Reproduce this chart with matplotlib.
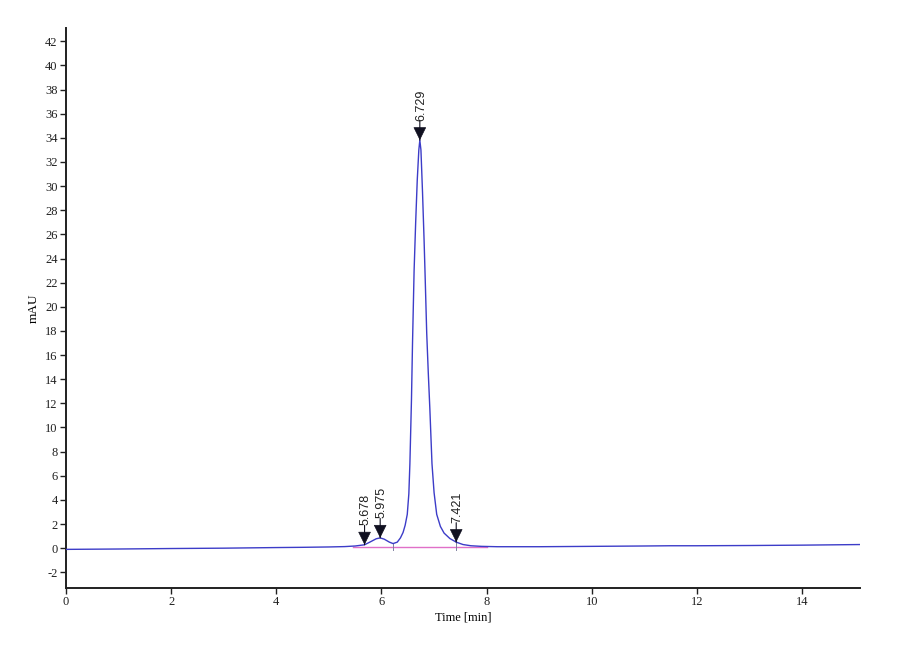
import matplotlib
matplotlib.use("Agg")
import matplotlib.pyplot as plt

plt.rcParams["axes.unicode_minus"] = False

# chromatogram trace
time_min = [0, 1, 2, 3, 4, 4.5, 5.0, 5.3, 5.5, 5.678, 5.8, 5.9, 5.975, 6.05,
            6.15, 6.22, 6.3, 6.36, 6.41, 6.45, 6.49, 6.52, 6.54, 6.57, 6.59,
            6.62, 6.65, 6.68, 6.71, 6.729, 6.75, 6.78, 6.81, 6.83, 6.86, 6.89,
            6.92, 6.96, 7.0, 7.05, 7.12, 7.19, 7.3, 7.421, 7.55, 7.7, 7.9, 8.2,
            9, 10, 11, 11.5, 12, 13, 14, 15.1]
signal_mau = [-0.1, -0.07, -0.03, 0.0, 0.05, 0.07, 0.1, 0.13, 0.18, 0.28,
              0.55, 0.78, 0.85, 0.75, 0.5, 0.38, 0.5, 0.85, 1.3, 1.9, 2.8,
              4.5, 7.0, 12.3, 17.0, 23.0, 27.0, 30.5, 33.0, 33.8, 33.0, 29.5,
              25.5, 22.5, 17.8, 14.5, 11.5, 7.0, 4.6, 2.8, 1.8, 1.25, 0.8,
              0.5, 0.3, 0.2, 0.15, 0.12, 0.12, 0.15, 0.18, 0.2, 0.2, 0.22,
              0.25, 0.3]

# peak marks
peak_times = [5.678, 5.975, 6.729, 7.421]
peak_heights = [0.28, 0.85, 33.8, 0.5]
peak_labels = ["5.678", "5.975", "6.729", "7.421"]

# integration baseline and drop lines
baseline_t = [5.46, 8.0]
baseline_v = [0.1, 0.1]
drop_times = [6.22, 7.421]
drop_tops = [0.38, 0.5]

serif = "Liberation Serif"
sans = "Liberation Sans"

fig = plt.figure(figsize=(9, 6.6), dpi=100)
ax = fig.add_axes([0.0733, 0.1091, 0.8823, 0.8485])

ax.plot(baseline_t, baseline_v, color="#e070c8", lw=1.0, zorder=2)
for t, top in zip(drop_times, drop_tops):
    ax.plot([t, t], [-0.15, top], color="#8080a0", lw=0.7, zorder=2)

ax.plot(time_min, signal_mau, color="#3c3cc8", lw=1.0, zorder=3)

for t, h, lab in zip(peak_times, peak_heights, peak_labels):
    # stem, then a triangle whose tip sits on the trace
    ax.annotate("", xy=(t, h), xytext=(0, 14), textcoords="offset points",
                arrowprops=dict(arrowstyle="-", lw=0.8, color="#101020",
                                shrinkA=0, shrinkB=0), zorder=4)
    ax.annotate("", xy=(t, h), xytext=(0, 9), textcoords="offset points",
                arrowprops=dict(arrowstyle="-|>,head_length=0.85,head_width=0.42",
                                lw=0.5, color="#101020", shrinkA=0, shrinkB=0),
                zorder=4)
    ax.annotate(lab, xy=(t, h), xytext=(1, 14), textcoords="offset points",
                rotation=90, ha="center", va="bottom", fontsize=9,
                family=sans, color="#202020", zorder=5)

ax.set_xlim(0, 15.1)
ax.set_ylim(-3.3, 43.1)
ax.set_xticks(range(0, 15, 2))
ax.set_yticks(range(-2, 43, 2))

for s in ("top", "right"):
    ax.spines[s].set_visible(False)
for s in ("left", "bottom"):
    ax.spines[s].set_linewidth(1.4)
    ax.spines[s].set_color("#202020")

ax.tick_params(direction="out", length=4, width=1.0, pad=2, colors="#202020")
for lbl in ax.get_xticklabels() + ax.get_yticklabels():
    lbl.set_family(serif)
    lbl.set_fontsize(9)

ax.set_xlabel("Time [min]", family=serif, fontsize=9, labelpad=2)
ax.set_ylabel("mAU", family=serif, fontsize=9.5, labelpad=4)

fig.savefig("out.png", dpi=100)
